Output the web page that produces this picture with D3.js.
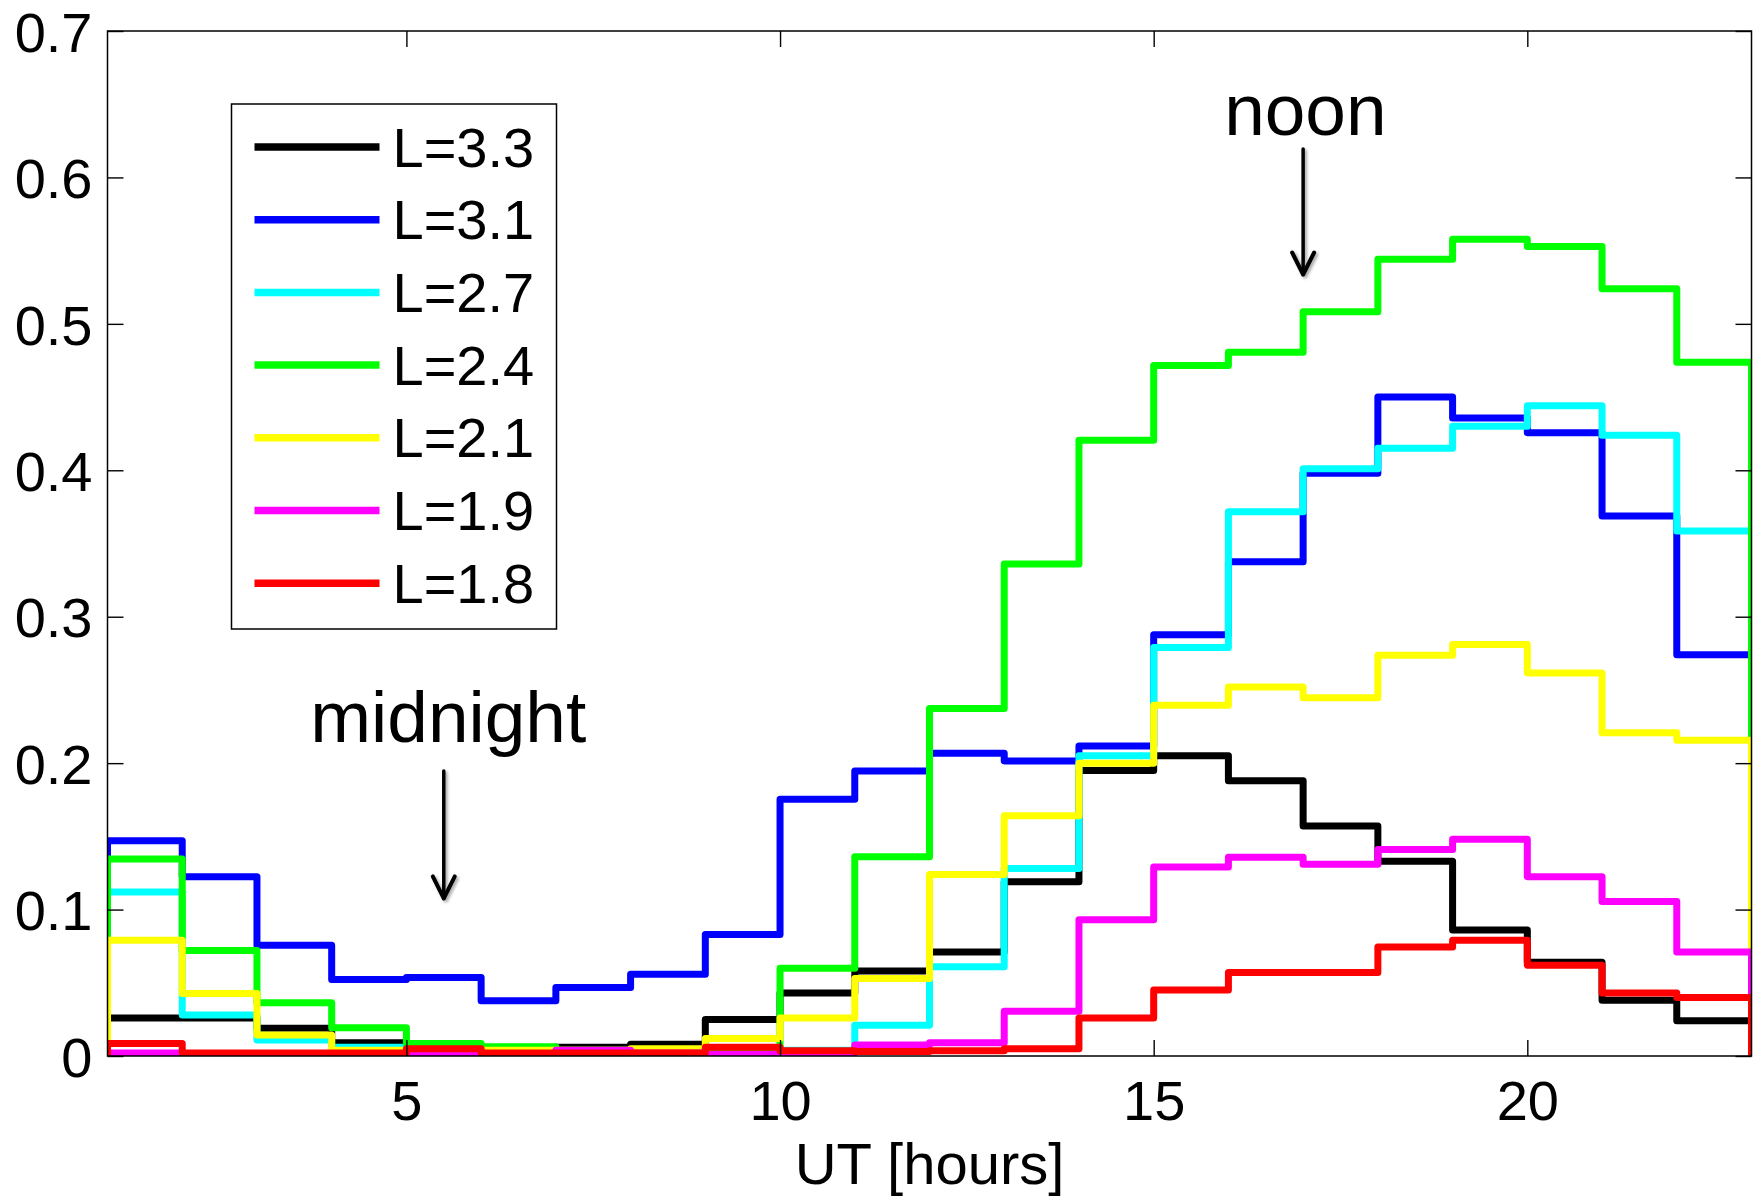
<!DOCTYPE html>
<html>
<head>
<meta charset="utf-8">
<script src="https://cdn.jsdelivr.net/npm/d3@7"></script>
<style>
  html, body { margin: 0; padding: 0; background: #fff; }
  #chart { width: 1760px; height: 1196px; }
  text { font-family: "Liberation Sans", Arial, Helvetica, sans-serif; }
</style>
</head>
<body>
<div id="chart"></div>
<script>
// bin start hours (each bin is one hour wide), last bin ends at HOUR_END
const HOURS = [1, 2, 3, 4, 5, 6, 7, 8, 9, 10, 11, 12, 13, 14, 15, 16, 17, 18, 19, 20, 21, 22];
const HOUR_END = 23;

const L33 = [0.026, 0.026, 0.019, 0.009, 0.007, 0.005, 0.006, 0.008, 0.025, 0.043, 0.058, 0.071, 0.119, 0.195, 0.205, 0.188, 0.157, 0.133, 0.086, 0.064, 0.038, 0.024];
const L31 = [0.147, 0.1225, 0.0756, 0.0522, 0.0536, 0.0377, 0.0468, 0.0558, 0.083, 0.1754, 0.1947, 0.2067, 0.2015, 0.2117, 0.2877, 0.3376, 0.398, 0.45, 0.4357, 0.4257, 0.3688, 0.274];
const L27 = [0.112, 0.028, 0.011, 0.006, 0.003, 0.003, 0.003, 0.003, 0.004, 0.004, 0.021, 0.061, 0.128, 0.205, 0.279, 0.3717, 0.401, 0.415, 0.43, 0.444, 0.424, 0.3585];
const L24 = [0.1346, 0.072, 0.0363, 0.0193, 0.0086, 0.0064, 0.004, 0.004, 0.005, 0.06, 0.136, 0.2374, 0.336, 0.4205, 0.4715, 0.4806, 0.5083, 0.5442, 0.5577, 0.5528, 0.524, 0.4738];
const L21 = [0.079, 0.0427, 0.0143, 0.004, 0.003, 0.004, 0.004, 0.005, 0.012, 0.026, 0.053, 0.124, 0.164, 0.2, 0.2396, 0.252, 0.2446, 0.2737, 0.281, 0.2616, 0.2208, 0.2156];
const L19 = [0.002, 0.001, 0.001, 0.001, 0.001, 0.001, 0.004, 0.002, 0.001, 0.002, 0.0075, 0.009, 0.0306, 0.093, 0.129, 0.1357, 0.131, 0.141, 0.148, 0.1225, 0.1055, 0.071];
const L18 = [0.0086, 0.002, 0.002, 0.002, 0.005, 0.002, 0.002, 0.002, 0.006, 0.0036, 0.003, 0.0036, 0.005, 0.026, 0.045, 0.057, 0.057, 0.0744, 0.079, 0.062, 0.043, 0.04];

const SERIES_NAMES = ["L=3.3", "L=3.1", "L=2.7", "L=2.4", "L=2.1", "L=1.9", "L=1.8"];
const SERIES_VALUES = [L33, L31, L27, L24, L21, L19, L18];
const SERIES_COLORS = ["#000000", "#0000ff", "#00ffff", "#00ff00", "#ffff00", "#ff00ff", "#ff0000"];

const X_TICKS = [5, 10, 15, 20];
const Y_TICKS = [0, 0.1, 0.2, 0.3, 0.4, 0.5, 0.6, 0.7];
const Y_TICK_LABELS = ["0", "0.1", "0.2", "0.3", "0.4", "0.5", "0.6", "0.7"];
const X_LABEL = "UT [hours]";

// annotations in data units: text position, arrow from/to
const NOTES = [
  { text: "midnight", x: 5.56, y: 0.2144, arrowX: 5.5, arrowTop: 0.1947, arrowTip: 0.1076 },
  { text: "noon", x: 17.03, y: 0.6287, arrowX: 17, arrowTop: 0.6195, arrowTip: 0.5337 }
];

renderChart();

function renderChart() {
  const totalWidth = 1760;
  const totalHeight = 1196;
  const margin = { top: 31, right: 8.5, bottom: 140, left: 107.5 };
  const width = totalWidth - margin.left - margin.right;
  const height = totalHeight - margin.top - margin.bottom;
  const fontSize = 56;

  const root = d3.select("#chart")
    .append("svg")
    .attr("width", totalWidth)
    .attr("height", totalHeight);

  const defs = root.append("defs");
  defs.append("clipPath")
    .attr("id", "plot-clip")
    .append("rect")
    .attr("width", width)
    .attr("height", height);

  const shadow = defs.append("filter")
    .attr("id", "arrow-shadow")
    .attr("x", "-50%").attr("y", "-20%")
    .attr("width", "200%").attr("height", "140%");
  shadow.append("feDropShadow")
    .attr("dx", 2).attr("dy", 2)
    .attr("stdDeviation", 1.5)
    .attr("flood-color", "#000")
    .attr("flood-opacity", 0.35);

  const svg = root.append("g")
    .attr("transform", `translate(${margin.left},${margin.top})`);

  const xScale = d3.scaleLinear().domain([1, 23]).range([0, width]);
  const yScale = d3.scaleLinear().domain([0, 0.7]).range([height, 0]);

  // histogram stairs
  const line = d3.line()
    .x(d => xScale(d.x))
    .y(d => yScale(d.y))
    .curve(d3.curveStepAfter);

  const plot = svg.append("g").attr("clip-path", "url(#plot-clip)");

  SERIES_VALUES.forEach((vals, s) => {
    const pts = [{ x: HOURS[0], y: 0 }]
      .concat(HOURS.map((h, i) => ({ x: h, y: vals[i] })))
      .concat([{ x: HOUR_END, y: 0 }]);
    plot.append("path")
      .datum(pts)
      .attr("fill", "none")
      .attr("stroke", SERIES_COLORS[s])
      .attr("stroke-width", 7)
      .attr("stroke-linejoin", "round")
      .attr("d", line);
  });

  // axes with inward ticks on all four sides
  const tickLen = 16;

  const styleAxis = g => {
    g.select(".domain").remove();
    g.selectAll(".tick line").attr("stroke", "#000").attr("stroke-width", 1.4);
    g.selectAll(".tick text")
      .attr("fill", "#000")
      .attr("font-size", fontSize)
      .attr("font-family", "'Liberation Sans', Arial, Helvetica, sans-serif");
  };

  svg.append("g")
    .attr("transform", `translate(0,${height})`)
    .call(d3.axisBottom(xScale).tickValues(X_TICKS).tickSizeInner(-tickLen).tickSizeOuter(0).tickPadding(24).tickFormat(d3.format("d")))
    .call(styleAxis);

  svg.append("g")
    .call(d3.axisTop(xScale).tickValues(X_TICKS).tickSizeInner(-tickLen).tickSizeOuter(0).tickFormat(""))
    .call(styleAxis);

  svg.append("g")
    .call(d3.axisLeft(yScale).tickValues(Y_TICKS).tickSizeInner(-tickLen).tickSizeOuter(0).tickPadding(15)
      .tickFormat((d, i) => Y_TICK_LABELS[i]))
    .call(styleAxis)
    .selectAll(".tick text")
    .attr("dy", "0.36em");

  svg.append("g")
    .attr("transform", `translate(${width},0)`)
    .call(d3.axisRight(yScale).tickValues(Y_TICKS).tickSizeInner(-tickLen).tickSizeOuter(0).tickFormat(""))
    .call(styleAxis);

  svg.append("rect")
    .attr("width", width)
    .attr("height", height)
    .attr("fill", "none")
    .attr("stroke", "#000")
    .attr("stroke-width", 1.5);

  svg.append("text")
    .attr("x", width / 2)
    .attr("y", height + 128)
    .attr("text-anchor", "middle")
    .attr("font-size", 58)
    .text(X_LABEL);

  // annotations
  NOTES.forEach(n => {
    svg.append("text")
      .attr("x", xScale(n.x))
      .attr("y", yScale(n.y))
      .attr("text-anchor", "middle")
      .attr("font-size", 73)
      .text(n.text);

    const ax = xScale(n.arrowX);
    const tip = yScale(n.arrowTip);
    const arrow = svg.append("g")
      .attr("filter", "url(#arrow-shadow)")
      .attr("stroke", "#000")
      .attr("fill", "none")
      .attr("stroke-linecap", "round")
      .attr("stroke-linejoin", "round");
    arrow.append("line")
      .attr("x1", ax).attr("x2", ax)
      .attr("y1", yScale(n.arrowTop)).attr("y2", tip)
      .attr("stroke-width", 3.5);
    arrow.append("path")
      .attr("d", `M${ax - 11},${tip - 22}L${ax},${tip}L${ax + 11},${tip - 22}`)
      .attr("stroke-width", 4);
  });

  // legend
  const legend = svg.append("g")
    .attr("transform", "translate(124,73)");

  legend.append("rect")
    .attr("width", 325)
    .attr("height", 525)
    .attr("fill", "#fff")
    .attr("stroke", "#000")
    .attr("stroke-width", 1.5);

  const rows = legend.selectAll(".legend-row")
    .data(SERIES_NAMES)
    .enter()
    .append("g")
    .attr("class", "legend-row")
    .attr("transform", (d, i) => `translate(0,${43 + i * 72.7})`);

  rows.append("line")
    .attr("x1", 23).attr("x2", 148)
    .attr("stroke", (d, i) => SERIES_COLORS[i])
    .attr("stroke-width", 7.5);

  rows.append("text")
    .attr("x", 161)
    .attr("dy", "0.35em")
    .attr("font-size", fontSize)
    .attr("fill", "#000")
    .text(d => d);
}
</script>
</body>
</html>
